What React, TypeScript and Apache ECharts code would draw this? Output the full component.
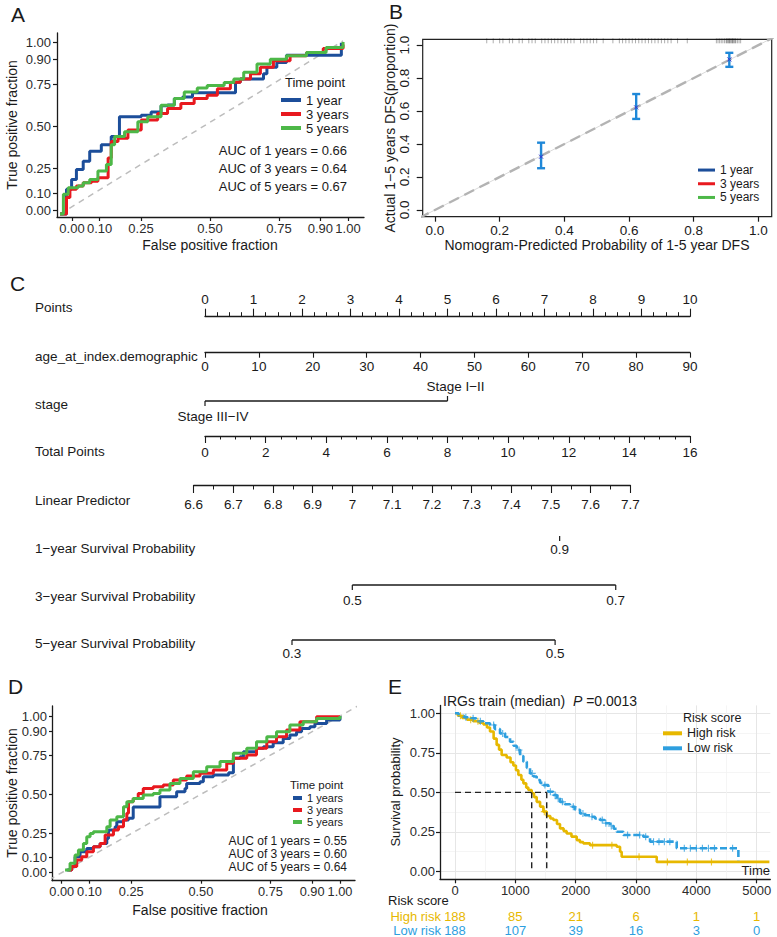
import React, { useEffect, useRef } from 'react';
import * as echarts from 'echarts';

const FONT = '"Liberation Sans", Arial, Helvetica, sans-serif';
const INK = '#1a1a1a';
const TICKTXT = '#2b2b2b';
const BLUE = '#1C4E9A';
const RED = '#E8191F';
const GREEN = '#4DB848';
const GOLD = '#E7B800';
const SKY = '#2E9FDF';
const ERR = '#1f88d8';

// ---------------- Panel A : ROC (training) ----------------
const rocTicks = [0, 0.1, 0.25, 0.5, 0.75, 0.9, 1];
const horizons = [1, 3, 5];
const rocA_1y = [[0,0],[0.023,0.143],[0.041,0.2],[0.058,0.257],[0.082,0.305],[0.105,0.362],[0.146,0.4],[0.181,0.448],[0.21,0.562],[0.275,0.562],[0.287,0.571],[0.322,0.59],[0.357,0.625],[0.38,0.63],[0.404,0.667],[0.433,0.676],[0.468,0.7],[0.62,0.7],[0.62,0.762],[0.637,0.78],[0.719,0.81],[0.731,0.848],[0.766,0.876],[0.8,0.918],[0.994,0.918],[0.994,0.99]];
const rocA_3y = [[0,0],[0.023,0.095],[0.035,0.143],[0.058,0.162],[0.082,0.18],[0.111,0.19],[0.134,0.21],[0.17,0.324],[0.181,0.419],[0.205,0.438],[0.24,0.486],[0.287,0.543],[0.345,0.581],[0.38,0.61],[0.427,0.638],[0.474,0.667],[0.52,0.686],[0.556,0.724],[0.602,0.762],[0.637,0.78],[0.673,0.81],[0.708,0.848],[0.754,0.886],[0.813,0.914],[0.871,0.933],[0.93,0.956],[1,0.98]];
const rocA_5y = [[0,0],[0.012,0.114],[0.029,0.152],[0.064,0.162],[0.082,0.18],[0.105,0.2],[0.134,0.248],[0.164,0.286],[0.181,0.4],[0.193,0.448],[0.228,0.476],[0.275,0.533],[0.31,0.562],[0.357,0.629],[0.404,0.667],[0.439,0.705],[0.485,0.728],[0.52,0.743],[0.58,0.76],[0.614,0.78],[0.649,0.819],[0.696,0.867],[0.743,0.895],[0.8,0.914],[0.871,0.933],[0.94,0.962],[1,0.994]];
const aucA = [0.66, 0.64, 0.67];
const legendA = ['1 year', '3 years', '5 years'];

// ---------------- Panel B : calibration ----------------
const calibTicks = [0, 0.2, 0.4, 0.6, 0.8, 1];
const calibPred = [0.328, 0.622, 0.91];
const calibObs = [0.323, 0.622, 0.913];
const calibLo = [0.253, 0.552, 0.868];
const calibHi = [0.408, 0.703, 0.953];
const rugPred = [0.16,0.18,0.2,0.21,0.23,0.24,0.26,0.27,0.29,0.3,0.31,0.33,0.34,0.35,0.36,0.37,0.38,0.39,0.4,0.41,0.42,0.43,0.45,0.46,0.47,0.48,0.49,0.5,0.52,0.55,0.57,0.58,0.59,0.6,0.61,0.62,0.63,0.64,0.65,0.66,0.67,0.68,0.69,0.7,0.71,0.72,0.73,0.75,0.78,0.87,0.875,0.88,0.885,0.89,0.895,0.9,0.902,0.905,0.908,0.91,0.912,0.915,0.918,0.92,0.922,0.925,0.928,0.93,0.935,0.94,0.945];

// ---------------- Panel C : nomogram ----------------
const rowLabelsC = ['Points', 'age_at_index.demographic', 'stage', 'Total Points', 'Linear Predictor', '1\u2212year Survival Probability', '3\u2212year Survival Probability', '5\u2212year Survival Probability'];
const stageLevels = ['Stage III\u2212IV', 'Stage I\u2212II'];
const stagePoints = [0, 5];
const surv1Labels = ['0.9'];
const surv1Total = [11.7];
const surv3Labels = ['0.5', '0.7'];
const surv3Total = [4.86, 13.55];
const surv5Labels = ['0.3', '0.5'];
const surv5Total = [2.87, 11.55];

// ---------------- Panel D : ROC (validation) ----------------
const rocD_1y = [[0.018,0.017],[0.036,0.038],[0.048,0.102],[0.066,0.134],[0.09,0.155],[0.114,0.166],[0.138,0.187],[0.162,0.219],[0.168,0.272],[0.192,0.294],[0.198,0.326],[0.222,0.336],[0.24,0.347],[0.257,0.42],[0.353,0.42],[0.353,0.485],[0.407,0.485],[0.413,0.517],[0.443,0.538],[0.449,0.57],[0.497,0.58],[0.509,0.613],[0.545,0.623],[0.6,0.638],[0.617,0.73],[0.641,0.74],[0.653,0.772],[0.7,0.794],[0.725,0.804],[0.76,0.83],[0.796,0.857],[0.82,0.879],[0.844,0.9],[0.862,0.921],[0.892,0.932],[0.91,0.953],[0.952,0.974],[1,0.985],[1,1]];
const rocD_3y = [[0.024,0.017],[0.036,0.04],[0.054,0.081],[0.072,0.102],[0.09,0.134],[0.114,0.166],[0.138,0.187],[0.156,0.24],[0.186,0.272],[0.204,0.294],[0.222,0.336],[0.234,0.379],[0.24,0.453],[0.257,0.474],[0.275,0.506],[0.293,0.538],[0.329,0.549],[0.365,0.56],[0.401,0.591],[0.449,0.617],[0.497,0.634],[0.545,0.655],[0.593,0.698],[0.617,0.73],[0.665,0.751],[0.7,0.794],[0.737,0.836],[0.772,0.868],[0.808,0.911],[0.856,0.964],[0.916,0.996],[1,1]];
const rocD_5y = [[0.012,0.017],[0.03,0.06],[0.048,0.113],[0.06,0.145],[0.078,0.187],[0.09,0.23],[0.102,0.251],[0.114,0.262],[0.15,0.262],[0.162,0.294],[0.174,0.336],[0.198,0.357],[0.222,0.421],[0.234,0.453],[0.257,0.474],[0.293,0.496],[0.329,0.506],[0.353,0.528],[0.389,0.57],[0.425,0.602],[0.473,0.645],[0.521,0.677],[0.569,0.709],[0.617,0.762],[0.665,0.794],[0.7,0.836],[0.737,0.868],[0.772,0.9],[0.82,0.943],[0.868,0.964],[0.916,0.985],[1,1]];
const aucD = [0.55, 0.60, 0.64];
const legendD = ['1 years', '3 years', '5 years'];

// ---------------- Panel E : Kaplan-Meier ----------------
const kmTicks = [0, 1000, 2000, 3000, 4000, 5000];
const kmMinorTicks = [500, 1500, 2500, 3500, 4500];
const survTicks = [0, 0.25, 0.5, 0.75, 1];
const survMinorTicks = [0.125, 0.375, 0.625, 0.875];
const kmHigh = [[0,1],[50,0.985],[120,0.97],[200,0.96],[300,0.95],[400,0.94],[470,0.93],[530,0.91],[580,0.885],[640,0.84],[690,0.8],[730,0.77],[773,0.736],[856,0.72],[920,0.69],[967,0.67],[1010,0.64],[1050,0.61],[1100,0.58],[1133,0.557],[1180,0.53],[1215,0.515],[1271,0.494],[1310,0.47],[1354,0.44],[1410,0.41],[1464,0.378],[1520,0.35],[1580,0.335],[1630,0.325],[1690,0.3],[1740,0.272],[1800,0.255],[1850,0.24],[1930,0.22],[2017,0.198],[2070,0.185],[2127,0.177],[2238,0.166],[2680,0.156],[2735,0.124],[2762,0.093],[3287,0.093],[3343,0.06],[5210,0.06]];
const kmLow = [[0,1],[60,0.985],[150,0.975],[230,0.968],[350,0.95],[470,0.937],[580,0.926],[660,0.9],[746,0.873],[830,0.85],[912,0.82],[970,0.795],[1022,0.768],[1080,0.73],[1133,0.694],[1190,0.655],[1243,0.62],[1300,0.6],[1354,0.578],[1410,0.56],[1464,0.546],[1547,0.504],[1630,0.483],[1690,0.46],[1740,0.44],[1820,0.425],[1906,0.409],[1990,0.39],[2072,0.367],[2150,0.355],[2238,0.346],[2320,0.335],[2403,0.325],[2480,0.305],[2569,0.287],[2630,0.27],[2680,0.251],[2790,0.23],[3122,0.219],[3232,0.188],[3619,0.188],[3674,0.146],[4669,0.146],[4696,0.07]];
const censorLow = [180,300,420,640,790,1060,1280,1490,1580,1660,1710,1780,1960,2120,2270,2440,2500,2590,2860,3060,3160,3290,3380,3470,3560,3800,3900,4000,4100,4200,4300,4600];
const censorHigh = [90,260,380,1480,2280,2600,3050,3520,3850,4250];
const medianHigh = 1271;
const medianLow = 1520;
const riskGroups = ['Low risk', 'High risk'];
const riskTimes = [0, 1000, 2000, 3000, 4000, 5000];
const atRiskHigh = [188, 85, 21, 6, 1, 1];
const atRiskLow = [188, 107, 39, 16, 3, 0];

function stepAt(curve: number[][], t: number) {
  let s = curve[0][1];
  for (const p of curve) { if (p[0] <= t) s = p[1]; else break; }
  return s;
}

const txt = (text: string, x: number, y: number, size: number, o: any = {}) => ({
  type: 'text', x, y, rotation: o.rotation || 0, silent: true, z: 50,
  style: {
    text, fill: o.color || INK, fontSize: size, fontFamily: FONT,
    align: o.align || 'left', verticalAlign: 'middle',
    textAlign: o.align || 'left', textVerticalAlign: 'middle',
    rich: o.rich,
  },
});

const hiddenX = (gridIndex: number, min: number, max: number) => ({ type: 'value', gridIndex, min, max, show: false });
const hiddenY = (gridIndex: number, min: number, max: number) => ({ type: 'value', gridIndex, min, max, show: false });

const lineAx = { show: true, onZero: false, lineStyle: { color: INK, width: 1.3 } };
const tickStyle = { color: INK, width: 1.2 };

function rocAxis(gridIndex: number, min: number, max: number, size: number, margin: number, tickLen: number) {
  return {
    type: 'value', gridIndex, min, max,
    axisLine: lineAx,
    axisTick: { show: true, length: tickLen, customValues: rocTicks, lineStyle: tickStyle },
    axisLabel: { customValues: rocTicks, formatter: (v: number) => v.toFixed(2), fontSize: size, color: TICKTXT, margin, fontFamily: FONT },
    splitLine: { show: false },
  };
}

function nomoAxis(gridIndex: number, position: string, min: number, max: number, interval: number, tickLen: number, margin: number, minorSplit: number) {
  return {
    type: 'value', gridIndex, position, min, max, interval,
    axisLine: { show: true, onZero: false, lineStyle: { color: INK, width: 1.3 } },
    axisTick: { show: true, length: tickLen, lineStyle: { color: INK, width: 1.1 } },
    minorTick: { show: minorSplit > 0, splitNumber: minorSplit || 1, length: Math.max(3, tickLen - 3.5), lineStyle: { color: INK, width: 1 } },
    axisLabel: { fontSize: 13.5, color: INK, margin, fontFamily: FONT, formatter: (v: number) => String(Math.round(v * 10) / 10) },
    splitLine: { show: false },
  };
}

function nomoRow(xIdx: number, values: number[], labels: string[], dirs: number[], labelOff: number, dx: number) {
  return {
    type: 'custom', xAxisIndex: xIdx, yAxisIndex: xIdx, silent: true,
    data: values.map((v, i) => [v, 0, i]),
    encode: { x: 0, y: 1 },
    renderItem: (params: any, api: any) => {
      const i = params.dataIndex;
      const p = api.coord([values[i], 0]);
      const children: any[] = [];
      if (i === 0 && values.length > 1) {
        const q = api.coord([values[values.length - 1], 0]);
        children.push({ type: 'line', shape: { x1: p[0], y1: p[1], x2: q[0], y2: q[1] }, style: { stroke: INK, lineWidth: 1.3 } });
      }
      const d = dirs[i];
      children.push({ type: 'line', shape: { x1: p[0], y1: p[1], x2: p[0], y2: p[1] + d * 5 }, style: { stroke: INK, lineWidth: 1.2 } });
      children.push({ type: 'text', style: { text: labels[i], x: p[0] + dx, y: p[1] + d * labelOff, align: 'center', verticalAlign: 'middle', fill: INK, fontSize: 13.5, fontFamily: FONT } });
      return { type: 'group', children };
    },
  };
}

function rocLine(name: string, data: number[][], color: string, xi: number, width: number) {
  return {
    type: 'line', name, xAxisIndex: xi, yAxisIndex: xi, data, step: 'end', symbol: 'none', showSymbol: false,
    lineStyle: { color, width }, itemStyle: { color }, z: 5, silent: true,
  };
}

function buildOption() {
  const grids = [
    { left: 57, top: 33, width: 307, height: 184 },          // 0 A
    { left: 422.7, top: 39.3, width: 349, height: 177.4, show: true, borderColor: '#222', borderWidth: 1.2, backgroundColor: 'transparent' }, // 1 B
    { left: 205, top: 316.7, width: 485, height: 10 },       // 2 Points
    { left: 205, top: 342.7, width: 485, height: 10 },       // 3 age
    { left: 205, top: 391, width: 485, height: 10 },         // 4 stage
    { left: 205, top: 426, width: 485, height: 10 },         // 5 total
    { left: 193.6, top: 475, width: 436.8, height: 10 },     // 6 LP
    { left: 205, top: 526, width: 485, height: 10 },         // 7 1y
    { left: 205, top: 575, width: 485, height: 10 },         // 8 3y
    { left: 205, top: 630, width: 485, height: 10 },         // 9 5y
    { left: 52, top: 706, width: 303, height: 174.7 },       // 10 D
    { left: 440, top: 705.4, width: 330.3, height: 173.9 },  // 11 E
    { left: 440, top: 908.65, width: 330.3, height: 29.4 },  // 12 risk table
  ].map((g: any) => ({ show: false, containLabel: false, outerBoundsMode: 'none', ...g }));

  const xAxis: any[] = [
    rocAxis(0, -0.0543, 1.058, 13, 5, 4),
    hiddenX(0, -0.0106, 1.074),
    {
      type: 'value', gridIndex: 1, min: -0.038, max: 1.041,
      axisLine: { show: false, onZero: false },
      axisTick: { show: true, length: 5, customValues: calibTicks, lineStyle: tickStyle },
      axisLabel: { customValues: calibTicks, formatter: (v: number) => v.toFixed(1), fontSize: 13.5, color: INK, margin: 7, fontFamily: FONT },
      splitLine: { show: false },
    },
    nomoAxis(2, 'top', 0, 10, 1, 8, 10, 4),
    nomoAxis(3, 'bottom', 0, 90, 10, 5, 7, 0),
    hiddenX(4, 0, 10),
    nomoAxis(5, 'bottom', 0, 16, 2, 7, 9, 4),
    nomoAxis(6, 'bottom', 6.6, 7.7, 0.1, 8, 12, 2),
    hiddenX(7, 0, 16),
    hiddenX(8, 0, 16),
    hiddenX(9, 0, 16),
    rocAxis(10, -0.0349, 1.054, 12.8, 4, 3),
    {
      type: 'value', gridIndex: 11, min: -248.6, max: 5225,
      axisLine: lineAx,
      axisTick: { show: true, length: 4, customValues: kmTicks, lineStyle: tickStyle },
      axisLabel: { customValues: kmTicks, fontSize: 13, color: TICKTXT, margin: 5, fontFamily: FONT, formatter: (v: number) => String(v) },
      splitLine: { show: true, lineStyle: { color: '#e6e6e6', width: 1 } },
    },
    {
      type: 'value', gridIndex: 11, min: -248.6, max: 5225,
      axisLine: { show: false }, axisLabel: { show: false },
      axisTick: { show: false, customValues: kmMinorTicks },
      splitLine: { show: true, lineStyle: { color: '#f2f2f2', width: 0.8 } },
    },
    hiddenX(12, -248.6, 5225),
  ];

  const yAxis: any[] = [
    rocAxis(0, -0.0418, 1.058, 13, 6, 4),
    hiddenY(0, -0.0173, 1.046),
    {
      type: 'value', gridIndex: 1, min: -0.041, max: 1.035,
      axisLine: { show: false, onZero: false },
      axisTick: { show: true, length: 6, customValues: calibTicks, lineStyle: tickStyle },
      axisLabel: { customValues: calibTicks, formatter: (v: number) => v.toFixed(1), fontSize: 13.5, color: INK, margin: 11, rotate: 90, fontFamily: FONT },
      splitLine: { show: false },
    },
    hiddenY(2, 0, 1), hiddenY(3, 0, 1), hiddenY(4, 0, 1), hiddenY(5, 0, 1),
    hiddenY(6, 0, 1), hiddenY(7, 0, 1), hiddenY(8, 0, 1), hiddenY(9, 0, 1),
    rocAxis(10, -0.051, 1.064, 13, 5, 3),
    {
      type: 'value', gridIndex: 11, min: -0.05, max: 1.05,
      axisLine: lineAx,
      axisTick: { show: true, length: 4, customValues: survTicks, lineStyle: tickStyle },
      axisLabel: { customValues: survTicks, formatter: (v: number) => v.toFixed(2), fontSize: 13, color: TICKTXT, margin: 5, fontFamily: FONT },
      splitLine: { show: true, lineStyle: { color: '#e6e6e6', width: 1 } },
    },
    {
      type: 'value', gridIndex: 11, min: -0.05, max: 1.05,
      axisLine: { show: false }, axisLabel: { show: false },
      axisTick: { show: false, customValues: survMinorTicks },
      splitLine: { show: true, lineStyle: { color: '#f2f2f2', width: 0.8 } },
    },
    {
      type: 'category', gridIndex: 12, data: riskGroups,
      axisLine: { show: false }, axisTick: { show: false },
      axisLabel: { interval: 0, fontSize: 13, margin: -1, fontFamily: FONT, color: (v: string) => (v === 'High risk' ? GOLD : SKY) },
      splitLine: { show: false },
    },
  ];

  const series: any[] = [
    // A
    { type: 'line', xAxisIndex: 1, yAxisIndex: 1, data: [[0, 0], [1, 1]], symbol: 'none', silent: true, z: 2, lineStyle: { color: '#bdbdbd', width: 1.5, type: [6, 5] } },
    rocLine(legendA[0], rocA_1y, BLUE, 1, 3),
    rocLine(legendA[1], rocA_3y, RED, 1, 3),
    rocLine(legendA[2], rocA_5y, GREEN, 1, 3),
    // B
    { type: 'line', xAxisIndex: 2, yAxisIndex: 2, data: [[-0.05, -0.05], [1.06, 1.06]], symbol: 'none', silent: true, z: 2, lineStyle: { color: '#dadada', width: 1 } },
    { type: 'line', xAxisIndex: 2, yAxisIndex: 2, data: [[-0.05, -0.05], [1.06, 1.06]], symbol: 'none', silent: true, z: 3, lineStyle: { color: '#b3b3b3', width: 2.4, type: [11, 6] } },
    {
      type: 'custom', xAxisIndex: 2, yAxisIndex: 2, silent: true, z: 6,
      data: calibPred.map((x, i) => [x, calibLo[i], calibHi[i], calibObs[i]]),
      encode: { x: 0, y: [1, 2, 3] },
      renderItem: (params: any, api: any) => {
        const x = api.value(0);
        const a = api.coord([x, api.value(2)]);
        const b = api.coord([x, api.value(1)]);
        const m = api.coord([x, api.value(3)]);
        const st = { stroke: ERR, lineWidth: 2.4 };
        return { type: 'group', children: [
          { type: 'line', shape: { x1: a[0], y1: a[1], x2: b[0], y2: b[1] }, style: st },
          { type: 'line', shape: { x1: a[0] - 4, y1: a[1], x2: a[0] + 4, y2: a[1] }, style: st },
          { type: 'line', shape: { x1: b[0] - 4, y1: b[1], x2: b[0] + 4, y2: b[1] }, style: st },
          { type: 'line', shape: { x1: m[0] - 2, y1: m[1] - 2, x2: m[0] + 2, y2: m[1] + 2 }, style: { stroke: '#3535d0', lineWidth: 1 } },
          { type: 'line', shape: { x1: m[0] - 2, y1: m[1] + 2, x2: m[0] + 2, y2: m[1] - 2 }, style: { stroke: '#3535d0', lineWidth: 1 } },
        ] };
      },
    },
    {
      type: 'custom', xAxisIndex: 2, yAxisIndex: 2, silent: true, z: 6,
      data: rugPred.map((v) => [v, 1]),
      encode: { x: 0, y: 1 },
      renderItem: (params: any, api: any) => {
        const p = api.coord([api.value(0), 1]);
        const top = params.coordSys.y;
        return { type: 'line', shape: { x1: p[0], y1: top - 1, x2: p[0], y2: top + 4 }, style: { stroke: 'rgba(0,0,0,0.32)', lineWidth: 1 } };
      },
    },
    // C
    nomoRow(5, stagePoints, stageLevels, [1, -1], 15, 8),
    nomoRow(8, surv1Total, surv1Labels, [1], 13, 0),
    nomoRow(9, surv3Total, surv3Labels, [1, 1], 15, 0),
    nomoRow(10, surv5Total, surv5Labels, [1, 1], 13.5, 0),
    // D
    { type: 'line', xAxisIndex: 11, yAxisIndex: 11, data: [[-0.08, -0.08], [1.1, 1.1]], symbol: 'none', silent: true, z: 2, clip: true, lineStyle: { color: '#bdbdbd', width: 1.5, type: [6, 5] } },
    rocLine('D:' + legendD[0], rocD_1y, BLUE, 11, 3),
    rocLine('D:' + legendD[1], rocD_3y, RED, 11, 3),
    rocLine('D:' + legendD[2], rocD_5y, GREEN, 11, 3),
    // E
    {
      type: 'line', name: 'High risk', xAxisIndex: 12, yAxisIndex: 12, data: kmHigh, step: 'end', symbol: 'none', silent: true, z: 5,
      lineStyle: { color: GOLD, width: 2.6 }, itemStyle: { color: GOLD },
    },
    {
      type: 'line', name: 'Low risk', xAxisIndex: 12, yAxisIndex: 12, data: kmLow, step: 'end', symbol: 'none', silent: true, z: 5,
      lineStyle: { color: SKY, width: 2.6, type: [7, 3] }, itemStyle: { color: SKY },
    },
    {
      type: 'scatter', xAxisIndex: 12, yAxisIndex: 12, silent: true, z: 6,
      symbol: 'path://M4.2,0h1.6v10h-1.6z M0,4.2h10v1.6h-10z', symbolSize: 7,
      data: censorHigh.map((t) => [t, stepAt(kmHigh, t)]), itemStyle: { color: GOLD },
    },
    {
      type: 'scatter', xAxisIndex: 12, yAxisIndex: 12, silent: true, z: 6,
      symbol: 'path://M4.2,0h1.6v10h-1.6z M0,4.2h10v1.6h-10z', symbolSize: 7,
      data: censorLow.map((t) => [t, stepAt(kmLow, t)]), itemStyle: { color: SKY },
    },
    { type: 'line', xAxisIndex: 12, yAxisIndex: 12, data: [[0, 0.5], [medianLow, 0.5]], symbol: 'none', silent: true, z: 7, lineStyle: { color: '#222', width: 1.4, type: [6, 4] } },
    { type: 'line', xAxisIndex: 12, yAxisIndex: 12, data: [[medianHigh, 0.5], [medianHigh, 0]], symbol: 'none', silent: true, z: 7, lineStyle: { color: '#222', width: 1.4, type: [6, 4] } },
    { type: 'line', xAxisIndex: 12, yAxisIndex: 12, data: [[medianLow, 0.5], [medianLow, 0]], symbol: 'none', silent: true, z: 7, lineStyle: { color: '#222', width: 1.4, type: [6, 4] } },
    {
      type: 'custom', xAxisIndex: 14, yAxisIndex: 14, silent: true,
      data: [
        ...riskTimes.map((t, i) => [t, 1, atRiskHigh[i]]),
        ...riskTimes.map((t, i) => [t, 0, atRiskLow[i]]),
      ],
      encode: { x: 0, y: 1 },
      renderItem: (params: any, api: any) => {
        const g = api.value(1);
        const p = api.coord([api.value(0), g]);
        return { type: 'text', style: { text: String(api.value(2)), x: p[0], y: p[1], align: 'center', verticalAlign: 'middle', fill: g === 1 ? GOLD : SKY, fontSize: 13, fontFamily: FONT } };
      },
    },
  ];

  const legendText = (size: number, lh: number) => ({ fontSize: size, lineHeight: lh, color: INK, fontFamily: FONT });
  const legend: any[] = [
    { left: 281, top: 93, orient: 'vertical', padding: 0, itemGap: 0, icon: 'rect', itemWidth: 20, itemHeight: 4, selectedMode: false, data: legendA, textStyle: legendText(13, 14) },
    { left: 698, top: 163.2, orient: 'vertical', padding: 0, itemGap: 0, icon: 'rect', itemWidth: 17, itemHeight: 3, selectedMode: false, data: legendA, textStyle: legendText(12, 13.7) },
    { left: 293, top: 792, orient: 'vertical', padding: 0, itemGap: 0, icon: 'rect', itemWidth: 9, itemHeight: 4, selectedMode: false, data: legendD.map((n) => 'D:' + n), formatter: (n: string) => n.slice(2), textStyle: legendText(11, 12) },
    { left: 663, top: 725.8, orient: 'vertical', padding: 0, itemGap: 0, icon: 'rect', itemWidth: 19, itemHeight: 4, selectedMode: false, data: ['High risk', 'Low risk'], textStyle: legendText(12.5, 15) },
  ];

  const rowY = [307.5, 356, 404, 451.7, 500, 548.3, 596, 643.3];
  const graphics: any[] = [
    txt('A', 11, 14, 21), txt('B', 389, 11, 21), txt('C', 10, 283, 21), txt('D', 8, 686, 21), txt('E', 388, 686, 21),
    // A
    txt('True positive fraction', 12, 125, 14, { align: 'center', rotation: Math.PI / 2 }),
    txt('False positive fraction', 210, 244.5, 14, { align: 'center' }),
    txt('Time point', 285, 82, 13),
    ...aucA.map((a, i) => txt(`AUC of ${horizons[i]} years = ${a.toFixed(2)}`, 347, 150 + i * 18, 13, { align: 'right' })),
    // B
    txt('Actual 1\u22125 years DFS(proportion)', 390, 128, 14, { align: 'center', rotation: Math.PI / 2 }),
    txt('Nomogram-Predicted Probability of 1-5 year DFS', 597, 245, 14, { align: 'center' }),
    // C
    ...rowLabelsC.map((l, i) => txt(l, 35, rowY[i], 13.5)),
    // D
    txt('True positive fraction', 12, 793, 14, { align: 'center', rotation: Math.PI / 2 }),
    txt('False positive fraction', 200, 910, 14, { align: 'center' }),
    txt('Time point', 290, 785, 11.5),
    ...aucD.map((a, i) => txt(`AUC of ${horizons[i]} years = ${a.toFixed(2)}`, 347, 840.7 + i * 13, 12, { align: 'right' })),
    // E
    txt('{a|IRGs train (median)  }{b|P}{a| =0.0013}', 443, 700.7, 14, { rich: { a: { fontSize: 14, fontFamily: FONT, fill: INK }, b: { fontSize: 14, fontFamily: FONT, fontStyle: 'italic', fill: INK } } }),
    txt('Survival probability', 395, 792, 13, { align: 'center', rotation: Math.PI / 2 }),
    txt('Time', 770, 870, 13, { align: 'right' }),
    txt('Risk score', 683, 718, 12.5),
    txt('Risk score', 388, 900.7, 13),
  ];

  return {
    animation: false,
    backgroundColor: '#ffffff',
    textStyle: { fontFamily: FONT },
    grid: grids,
    xAxis,
    yAxis,
    legend,
    series,
    graphic: { elements: graphics },
  };
}

export default function App() {
  const ref = useRef<HTMLDivElement>(null);
  useEffect(() => {
    if (!ref.current) return;
    const chart = echarts.init(ref.current, null, { renderer: 'svg' });
    chart.setOption(buildOption() as any);
    return () => chart.dispose();
  }, []);
  return <div ref={ref} style={{ position: 'fixed', left: 0, top: 0, width: 777, height: 937, background: '#fff' }} />;
}
